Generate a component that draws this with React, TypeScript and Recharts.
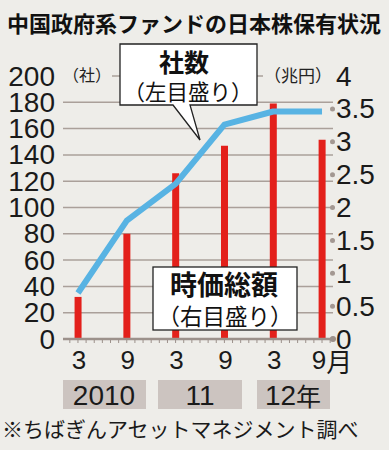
import { ComposedChart, Bar, Line, XAxis, YAxis, CartesianGrid } from 'recharts';

// months counted from March 2010
const months = [0, 6, 12, 18, 24, 30];
const companies = [35, 90, 118, 163, 173, 173]; // 社数 (left)
const marketValue = [0.64, 1.6, 2.52, 2.94, 3.58, 3.03]; // 時価総額 兆円 (right)
const monthLabels = ['3', '9', '3', '9', '3', '9月'];
const leftTicks = [0, 20, 40, 60, 80, 100, 120, 140, 160, 180, 200];
const rightTicks = [0, 0.5, 1, 1.5, 2, 2.5, 3, 3.5, 4];
const yearLabels = ['2010', '11', '12年'];

const BG = '#eeede9';
const GRID = '#aaa09a';
const AXIS = '#9c918b';
const RED = '#e3201b';
const BLUE = '#58b3e3';
const NUM_FONT = '"Liberation Sans", Arial, sans-serif';
const JP_FONT = '"Noto Sans CJK JP", sans-serif';

const data = months.map((m, i) => ({ m, companies: companies[i], value: marketValue[i] }));
const xTicks = Array.from({ length: 33 }, (_, i) => i - 1);

const LeftTick = ({ x, y, payload }: any) => (
  <text x={x} y={y} textAnchor="end" dominantBaseline="central" fontSize={28} fontFamily={NUM_FONT} fill="#1a1a1a">
    {payload.value}
  </text>
);

const RightTick = ({ x, y, payload }: any) => (
  <g>
    <circle cx={x - 0.5} cy={y} r={2.5} fill="#a39892" />
    <text x={x + 3} y={y} textAnchor="start" dominantBaseline="central" fontSize={28} fontFamily={NUM_FONT} fill="#1a1a1a">
      {payload.value}
    </text>
  </g>
);

const MonthTick = ({ x, y, payload }: any) => {
  const idx = months.indexOf(payload.value);
  if (idx < 0) return null;
  const label = monthLabels[idx];
  const last = idx === months.length - 1;
  return (
    <text x={last ? x + 10 : x + 1} y={y + 17} textAnchor="middle" dominantBaseline="central" fontSize={26} fontFamily={last ? JP_FONT : NUM_FONT} fill="#1a1a1a">
      {last ? (
        <>
          <tspan fontFamily={NUM_FONT}>9</tspan>
          <tspan>月</tspan>
        </>
      ) : label}
    </text>
  );
};

export default function App() {
  const yearBoxes = [
    { x: 63, w: 83, cx: 104 },
    { x: 158, w: 84, cx: 200 },
    { x: 257, w: 73, cx: 293 },
  ];
  return (
    <div style={{ position: 'absolute', left: 0, top: 0, width: 389, height: 450, background: BG, overflow: 'hidden' }}>
      <ComposedChart width={389} height={450} data={data} margin={{ top: 76, right: 0, bottom: 81, left: 0 }}>
        <CartesianGrid vertical={false} stroke={GRID} strokeWidth={1.5} yAxisId="left" />
        <XAxis
          dataKey="m"
          type="number"
          domain={[-1.84, 31.35]}
          ticks={xTicks}
          interval={0}
          height={30}
          tickSize={4}
          tickMargin={0}
          axisLine={{ stroke: AXIS, strokeWidth: 2.5 }}
          tickLine={{ stroke: AXIS, strokeWidth: 1 }}
          tick={<MonthTick />}
          allowDataOverflow
        />
        <YAxis
          yAxisId="left"
          orientation="left"
          width={63}
          domain={[0, 200]}
          ticks={leftTicks}
          interval={0}
          tickSize={0}
          tickMargin={8}
          axisLine={false}
          tickLine={false}
          tick={<LeftTick />}
        />
        <YAxis
          yAxisId="right"
          orientation="right"
          width={56}
          domain={[0, 4]}
          ticks={rightTicks}
          interval={0}
          tickSize={0}
          tickMargin={0}
          axisLine={false}
          tickLine={false}
          tick={<RightTick />}
        />
        <Bar yAxisId="right" dataKey="value" fill={RED} barSize={7} isAnimationActive={false} />
        <Line
          yAxisId="left"
          dataKey="companies"
          stroke={BLUE}
          strokeWidth={6}
          dot={false}
          strokeLinejoin="round"
          isAnimationActive={false}
        />
      </ComposedChart>

      <svg width={389} height={450} style={{ position: 'absolute', left: 0, top: 0, pointerEvents: 'none' }}>
        {/* title */}
        <text x={7} y={32} fontSize={22} fontWeight="bold" fontFamily={JP_FONT} fill="#111">
          中国政府系ファンドの日本株保有状況
        </text>

        {/* unit labels */}
        <rect x={62} y={64} width={50} height={20} fill={BG} />
        <text x={63} y={74} dominantBaseline="central" fontSize={16} fontFamily={JP_FONT} fill="#222">（社）</text>
        <rect x={263} y={64} width={72} height={20} fill={BG} />
        <text x={264} y={74} dominantBaseline="central" fontSize={17} fontFamily={JP_FONT} fill="#222">（兆円）</text>

        {/* axis end dot */}
        <circle cx={333} cy={339} r={3} fill={AXIS} />

        {/* 社数 callout */}
        <path d="M120,44 H257 V105 H190 L200,140 L173,105 H120 Z" fill="#fff" stroke="#222" strokeWidth={1.3} />
        <text x={184} y={61} textAnchor="middle" dominantBaseline="central" fontSize={25} fontWeight="bold" fontFamily={JP_FONT} fill="#111">社数</text>
        <text x={188} y={90} textAnchor="middle" dominantBaseline="central" fontSize={21.5} fontFamily={JP_FONT} fill="#111">（左目盛り）</text>

        {/* 時価総額 box */}
        <rect x={153} y={267} width={144} height={63} fill="#fff" stroke="#222" strokeWidth={1.3} />
        <text x={224} y={283} textAnchor="middle" dominantBaseline="central" fontSize={27} fontWeight="bold" fontFamily={JP_FONT} fill="#111">時価総額</text>
        <text x={225} y={315} textAnchor="middle" dominantBaseline="central" fontSize={22.5} fontFamily={JP_FONT} fill="#111">（右目盛り）</text>

        {/* year boxes */}
        {yearBoxes.map((b, i) => (
          <g key={yearLabels[i]}>
            <rect x={b.x} y={380} width={b.w} height={29} fill="#ccc4c0" />
            <text x={b.cx} y={395} textAnchor="middle" dominantBaseline="central" fontSize={28} fontFamily={i === 2 ? JP_FONT : NUM_FONT} fill="#1a1a1a">
              {i === 2 ? (
                <>
                  <tspan fontFamily={NUM_FONT}>12</tspan>
                  <tspan fontSize={25}>年</tspan>
                </>
              ) : yearLabels[i]}
            </text>
          </g>
        ))}

        {/* source */}
        <text x={2} y={437} fontSize={21} fontFamily={JP_FONT} fill="#1a1a1a">※ちばぎんアセットマネジメント調べ</text>
      </svg>
    </div>
  );
}
